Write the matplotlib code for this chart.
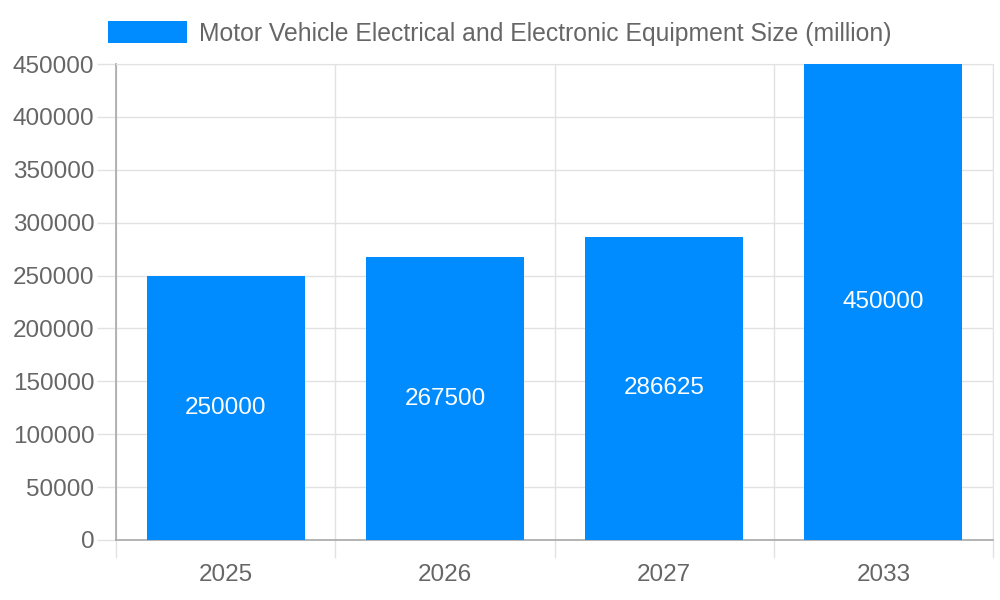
import matplotlib
matplotlib.use("Agg")
import matplotlib.pyplot as plt
from matplotlib.ticker import FixedLocator

# Data
years = ["2025", "2026", "2027", "2033"]
sizes = [250000, 267500, 286625, 450000]
series_name = "Motor Vehicle Electrical and Electronic Equipment Size (million)"

bar_color = "#008cff"
text_color = "#666666"
grid_color = "#e2e2e2"
axis_color = "#a8a8a8"
fs = 17.5

plt.rcParams["font.family"] = ["Liberation Sans", "DejaVu Sans"]

fig = plt.figure(figsize=(10, 6), dpi=100)
ax = fig.add_axes([0.116, 0.10, 0.877, 0.7933])

x = list(range(len(years)))
bars = ax.bar(x, sizes, width=0.72, color=bar_color, label=series_name, zorder=3)

# value labels inside bars
for rect, val in zip(bars, sizes):
    ax.text(rect.get_x() + rect.get_width() / 2, val / 2, str(val),
            ha="center", va="center", color="white", fontsize=fs, zorder=4)

ax.set_xlim(-0.5, len(years) - 0.5)
ax.set_ylim(0, 450000)
ax.set_yticks(range(0, 450001, 50000))
ax.set_xticks(x)
ax.set_xticklabels(years)
ax.xaxis.set_minor_locator(FixedLocator([i - 0.5 for i in range(len(years) + 1)]))

ax.tick_params(axis="x", which="major", length=0, pad=17, labelsize=fs, labelcolor=text_color)
ax.tick_params(axis="x", which="minor", length=13, width=1, color=grid_color)
ax.tick_params(axis="y", length=14, width=1, color=grid_color, pad=1.5,
               labelsize=fs, labelcolor=text_color)

ax.grid(axis="y", color=grid_color, linewidth=1, zorder=0)
ax.grid(axis="x", which="minor", color=grid_color, linewidth=1, zorder=0)

for side in ["top", "right"]:
    ax.spines[side].set_color(grid_color)
for side in ["left", "bottom"]:
    ax.spines[side].set_color(axis_color)
    ax.spines[side].set_linewidth(1.2)

fig.legend(loc="upper center", bbox_to_anchor=(0.5, 1.002), frameon=False,
           fontsize=17.8, labelcolor=text_color, handlelength=3.2, handleheight=1.0,
           handletextpad=0.5)

fig.savefig("out.png", dpi=100)
